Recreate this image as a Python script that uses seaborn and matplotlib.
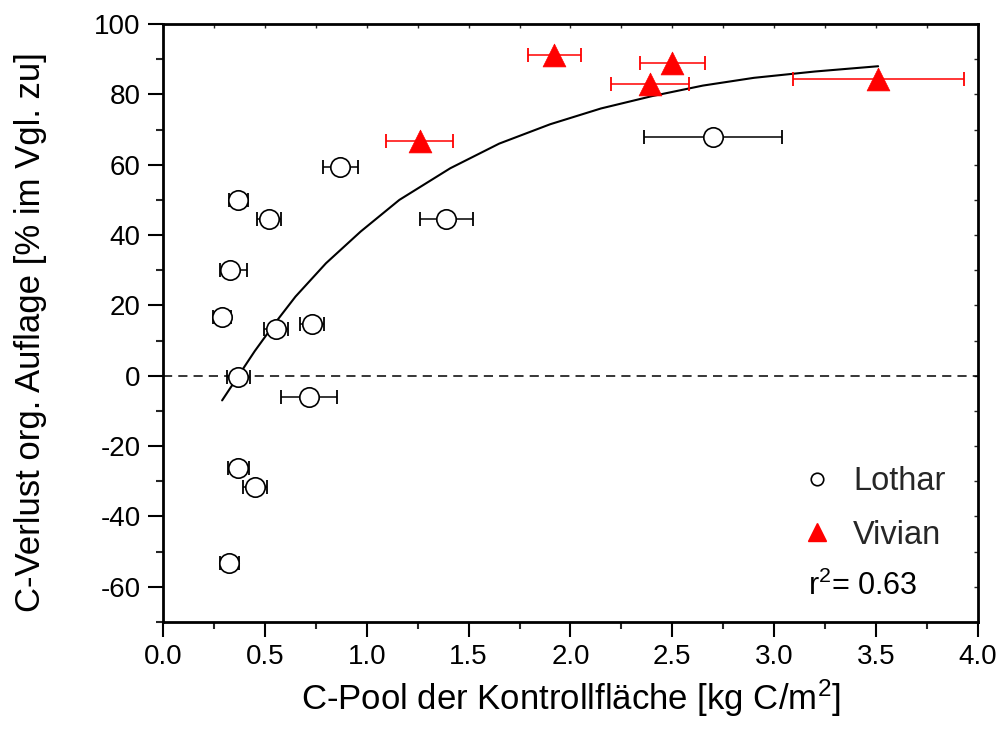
import numpy as np
import pandas as pd
import matplotlib
matplotlib.use("Agg")
import matplotlib.pyplot as plt
from matplotlib.lines import Line2D
from matplotlib.ticker import MultipleLocator
import seaborn as sns

# ---- data ----
lothar_x = [0.87, 0.37, 0.52, 1.39, 0.33, 0.29, 0.555, 0.73, 0.37, 0.715, 0.37, 0.45, 0.325, 2.70]
lothar_y = [59.4, 50.0, 44.6, 44.6, 30.1, 16.7, 13.3, 14.7, -0.3, -6.0, -26.2, -31.6, -53.2, 67.9]
lothar_xerr_lo = [0.085, 0.048, 0.058, 0.13, 0.05, 0.046, 0.06, 0.058, 0.055, 0.137, 0.052, 0.058, 0.046, 0.34]
lothar_xerr_hi = [0.085, 0.048, 0.058, 0.13, 0.08, 0.046, 0.06, 0.058, 0.055, 0.137, 0.052, 0.058, 0.046, 0.34]

vivian_x = [1.26, 1.92, 2.50, 2.39, 3.51]
vivian_y = [66.7, 91.2, 88.9, 82.9, 84.4]
vivian_xerr = [0.165, 0.13, 0.16, 0.19, 0.42]

fit_x = [0.29, 0.37, 0.45, 0.55, 0.65, 0.80, 0.97, 1.16, 1.41, 1.65, 1.90, 2.15, 2.40, 2.65, 2.90, 3.20, 3.51]
fit_y = [-7.0, 0.0, 7.0, 15.0, 22.5, 32.0, 41.0, 50.0, 59.0, 66.0, 71.5, 76.0, 79.5, 82.5, 84.7, 86.5, 88.0]

x_ticks = [0.0, 0.5, 1.0, 1.5, 2.0, 2.5, 3.0, 3.5, 4.0]
y_ticks = [-60, -40, -20, 0, 20, 40, 60, 80, 100]
series_labels = ["Lothar", "Vivian"]
r2_text = "r$^2$= 0.63"
x_label = "C-Pool der Kontrollfläche [kg C/m$^2$]"
y_label = "C-Verlust org. Auflage [% im Vgl. zu]"

# ---- style ----
sns.set_theme(style="ticks")
plt.rcParams["font.family"] = ["Liberation Sans", "DejaVu Sans"]
plt.rcParams["mathtext.default"] = "regular"

fig = plt.figure(figsize=(10.02, 7.39), dpi=100)
ax = fig.add_axes([0.1627, 0.1583, 0.8133, 0.8092])

RED = "#ff0000"

df_l = pd.DataFrame({"x": lothar_x, "y": lothar_y})
df_v = pd.DataFrame({"x": vivian_x, "y": vivian_y})
df_fit = pd.DataFrame({"x": fit_x, "y": fit_y})

# zero line
ax.axhline(0, color="black", lw=1.1, ls=(0, (6, 4)), zorder=1)

# fit curve
sns.lineplot(data=df_fit, x="x", y="y", ax=ax, color="black", lw=1.5, sort=False,
             zorder=2, legend=False)

# error bars
ax.errorbar(lothar_x, lothar_y, xerr=[lothar_xerr_lo, lothar_xerr_hi], fmt="none",
            ecolor="black", elinewidth=1.1, capsize=5, capthick=1.3, zorder=3)
ax.errorbar(vivian_x, vivian_y, xerr=vivian_xerr, fmt="none", ecolor=RED,
            elinewidth=1.1, capsize=5, capthick=1.3, zorder=3)

# markers
sns.scatterplot(data=df_l, x="x", y="y", ax=ax, marker="o", s=195,
                facecolor="white", edgecolor="black", linewidth=1.2, zorder=4, legend=False)
sns.scatterplot(data=df_v, x="x", y="y", ax=ax, marker="^", s=270,
                color=RED, edgecolor=RED, linewidth=0.5, zorder=4, legend=False)

# axes
ax.set_xlim(0, 4.0)
ax.set_ylim(-70, 100)
ax.set_xticks(x_ticks)
ax.set_xticklabels([f"{v:.1f}" for v in x_ticks])
ax.set_yticks(y_ticks)
ax.set_yticklabels([str(v) for v in y_ticks])
ax.xaxis.set_minor_locator(MultipleLocator(0.25))
ax.yaxis.set_minor_locator(MultipleLocator(10))
ax.tick_params(which="major", direction="out", length=11, width=1.5, labelsize=20,
               pad=5, colors="black")
ax.tick_params(which="minor", direction="out", length=5, width=1.5)
for sp in ax.spines.values():
    sp.set_visible(True)
    sp.set_linewidth(2.0)
    sp.set_color("black")

secx = ax.secondary_xaxis("top")
secx.set_xticks(x_ticks)
secx.xaxis.set_minor_locator(MultipleLocator(0.25))
secx.tick_params(which="both", direction="in", length=3, width=1.0, labeltop=False)
secx.spines["top"].set_visible(False)
secy = ax.secondary_yaxis("right")
secy.set_yticks(y_ticks)
secy.yaxis.set_minor_locator(MultipleLocator(10))
secy.tick_params(which="both", direction="in", length=3, width=1.0, labelright=False)
secy.spines["right"].set_visible(False)

ax.set_xlabel(x_label, fontsize=25, labelpad=5, color="black")
ax.set_ylabel(y_label, fontsize=25, color="black")
ax.yaxis.set_label_coords(-0.142, 0.485)

# legend
handles = [
    Line2D([], [], ls="none", marker="o", markersize=9, markerfacecolor="white",
           markeredgecolor="black", markeredgewidth=1.2),
    Line2D([], [], ls="none", marker="^", markersize=13, markerfacecolor=RED,
           markeredgecolor=RED),
]
leg = ax.legend(handles, series_labels, loc="upper left", bbox_to_anchor=(0.7665, 0.282),
                frameon=False, fontsize=23.5, handlelength=1.0, handletextpad=0.6,
                labelspacing=0.68, borderaxespad=0)
ax.text(0.791, 0.06, r2_text, transform=ax.transAxes, fontsize=22,
        ha="left", va="center", color="black")

fig.savefig("out.png", dpi=100)
